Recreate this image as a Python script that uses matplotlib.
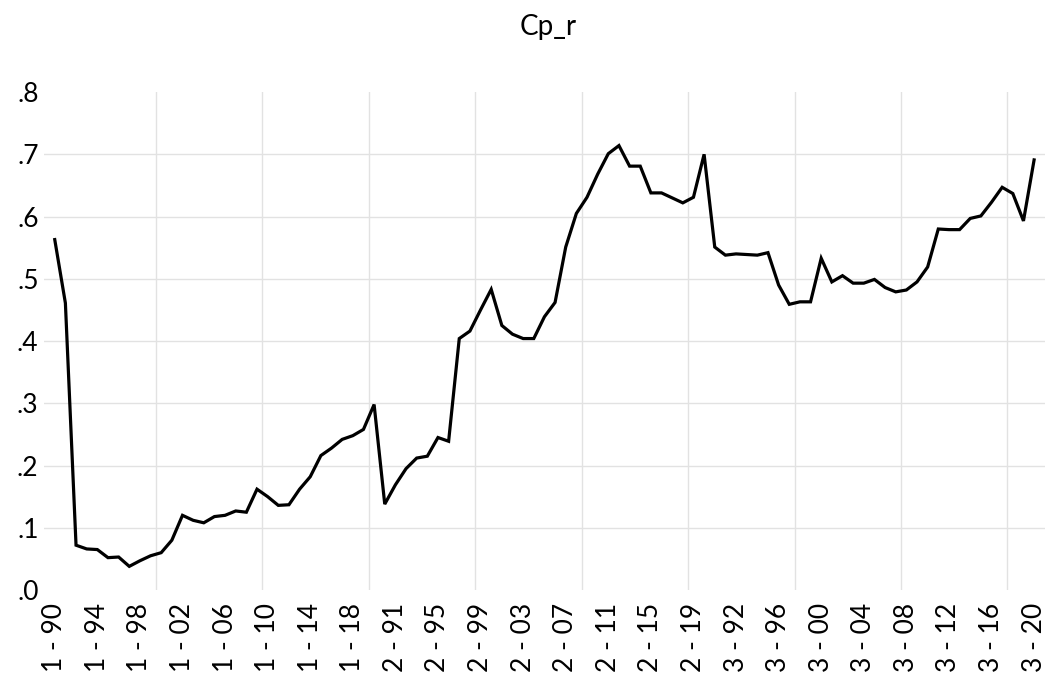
import numpy as np
import matplotlib
matplotlib.use("Agg")
import matplotlib.pyplot as plt

# panel of 3 cross-sections, 1990-2020 each
groups = [1, 2, 3]
years = list(range(1990, 2021))
cp_r = [
    # group 1
    0.563, 0.461, 0.072, 0.066, 0.065, 0.052, 0.053, 0.038, 0.047, 0.055,
    0.060, 0.080, 0.120, 0.112, 0.108, 0.118, 0.120, 0.127, 0.125, 0.162,
    0.150, 0.136, 0.137, 0.162, 0.182, 0.216, 0.228, 0.242, 0.248, 0.258,
    0.298,
    # group 2
    0.138, 0.169, 0.195, 0.212, 0.215, 0.245, 0.239, 0.404, 0.416, 0.450,
    0.483, 0.425, 0.411, 0.404, 0.404, 0.439, 0.462, 0.551, 0.605, 0.631,
    0.668, 0.701, 0.714, 0.681, 0.681, 0.638, 0.638, 0.630, 0.622, 0.631,
    0.700,
    # group 3
    0.551, 0.538, 0.540, 0.539, 0.538, 0.542, 0.490, 0.459, 0.463, 0.463,
    0.533, 0.495, 0.505, 0.493, 0.493, 0.499, 0.486, 0.479, 0.482, 0.495,
    0.519, 0.580, 0.579, 0.579, 0.597, 0.601, 0.623, 0.647, 0.637, 0.593,
    0.691,
]

labels = ["%d - %02d" % (g, y % 100) for g in groups for y in years]
x = np.arange(len(cp_r))

plt.rcParams['font.family'] = ['Lato', 'DejaVu Sans']

fig = plt.figure(figsize=(10.5, 6.84), dpi=100)
ax = fig.add_axes([0.042, 0.1374, 0.953, 0.728])

ax.plot(x, cp_r, color="black", lw=2.3, solid_joinstyle="miter")

ax.set_xlim(-1.0, 93.0)
ax.set_ylim(0, 0.8)

ax.set_xticks(x[::4])
ax.set_xticklabels(labels[::4], rotation=90, fontsize=19)
ax.set_yticks(np.arange(0, 0.81, 0.1))
ax.set_yticklabels(["." + str(i) for i in range(9)], fontsize=19)

# grid: horizontal at ticks, vertical every 10 obs between categories
for yv in np.arange(0.1, 0.75, 0.1):
    ax.axhline(yv, color="#e2e2e2", lw=1.0, zorder=0)
for xv in np.arange(9.5, 92, 10):
    ax.axvline(xv, color="#e2e2e2", lw=1.0, zorder=0)

for s in ax.spines.values():
    s.set_visible(False)
ax.tick_params(axis="y", length=0, pad=4)
ax.tick_params(axis="x", length=0, pad=9)

fig.text(548 / 1050, 1 - 27 / 684, "Cp_r", ha="center", va="center", fontsize=20)

fig.savefig("out.png", dpi=100)
